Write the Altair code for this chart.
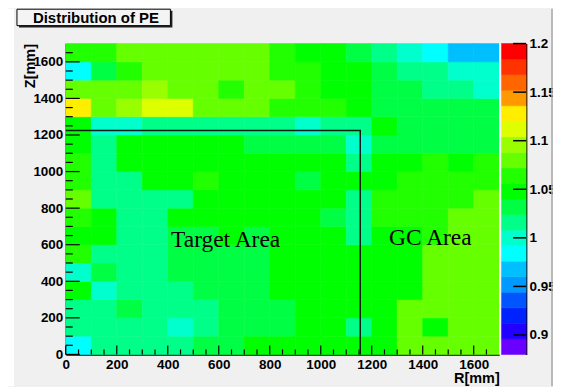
import altair as alt
import pandas as pd

# ---------------- data ----------------
r_edges = [0, 100, 200, 300, 400, 500, 600, 700, 800, 900, 1000, 1100, 1200, 1300, 1400, 1500, 1600, 1700]
z_edges = [0, 100, 200, 300, 400, 500, 600, 700, 800, 900, 1000, 1100, 1200, 1300, 1400, 1500, 1600, 1700]

# PE ratio per R bin, one list per Z bin (bottom to top)
pe_z0000 = [0.984, 1.016, 1.016, 1.016, 1.016, 1.032, 1.032, 1.048, 1.048, 1.048, 1.048, 1.048, 1.048, 1.080, 1.080, 1.080, 1.080]
pe_z0100 = [1.016, 1.016, 1.016, 1.016, 1.000, 1.016, 1.032, 1.032, 1.032, 1.048, 1.048, 1.016, 1.048, 1.080, 1.048, 1.080, 1.080]
pe_z0200 = [1.016, 1.016, 1.032, 1.016, 1.016, 1.016, 1.032, 1.032, 1.032, 1.048, 1.048, 1.048, 1.048, 1.080, 1.080, 1.080, 1.080]
pe_z0300 = [1.048, 1.000, 1.016, 1.016, 1.016, 1.032, 1.032, 1.032, 1.048, 1.048, 1.048, 1.048, 1.048, 1.048, 1.080, 1.080, 1.080]
pe_z0400 = [1.000, 1.032, 1.016, 1.016, 1.032, 1.032, 1.032, 1.032, 1.048, 1.048, 1.048, 1.048, 1.048, 1.048, 1.080, 1.080, 1.080]
pe_z0500 = [1.064, 1.016, 1.016, 1.016, 1.032, 1.032, 1.032, 1.032, 1.048, 1.048, 1.048, 1.048, 1.048, 1.048, 1.080, 1.080, 1.080]
pe_z0600 = [1.048, 1.048, 1.016, 1.016, 1.032, 1.032, 1.048, 1.032, 1.048, 1.048, 1.048, 1.016, 1.048, 1.048, 1.064, 1.080, 1.080]
pe_z0700 = [1.064, 1.048, 1.016, 1.016, 1.048, 1.048, 1.048, 1.048, 1.048, 1.048, 1.032, 1.016, 1.064, 1.064, 1.064, 1.080, 1.080]
pe_z0800 = [1.080, 1.016, 1.016, 1.016, 1.016, 1.048, 1.048, 1.048, 1.048, 1.048, 1.048, 1.016, 1.064, 1.064, 1.064, 1.064, 1.080]
pe_z0900 = [1.064, 1.016, 1.016, 1.048, 1.048, 1.064, 1.048, 1.048, 1.048, 1.032, 1.048, 1.048, 1.048, 1.064, 1.064, 1.064, 1.064]
pe_z1000 = [1.064, 1.016, 1.048, 1.048, 1.048, 1.048, 1.048, 1.048, 1.048, 1.048, 1.048, 1.016, 1.048, 1.048, 1.064, 1.048, 1.064]
pe_z1100 = [1.048, 1.016, 1.048, 1.048, 1.048, 1.048, 1.048, 1.032, 1.032, 1.032, 1.032, 1.000, 1.032, 1.032, 1.032, 1.032, 1.032]
pe_z1200 = [1.048, 1.000, 1.000, 1.016, 1.016, 1.016, 1.016, 1.016, 1.016, 1.000, 1.016, 1.016, 1.048, 1.032, 1.032, 1.032, 1.032]
pe_z1300 = [1.128, 1.080, 1.096, 1.112, 1.112, 1.080, 1.080, 1.080, 1.064, 1.064, 1.064, 1.048, 1.032, 1.032, 1.032, 1.032, 1.032]
pe_z1400 = [1.080, 1.080, 1.080, 1.096, 1.080, 1.080, 1.064, 1.080, 1.080, 1.064, 1.048, 1.048, 1.032, 1.032, 1.016, 1.016, 1.000]
pe_z1500 = [0.984, 1.032, 1.064, 1.080, 1.080, 1.080, 1.080, 1.080, 1.064, 1.064, 1.048, 1.048, 1.032, 1.016, 1.016, 1.000, 1.000]
pe_z1600 = [1.064, 1.064, 1.080, 1.080, 1.080, 1.080, 1.080, 1.080, 1.064, 1.048, 1.048, 1.032, 1.016, 1.000, 0.984, 0.968, 0.968]

pe_rows = [pe_z0000, pe_z0100, pe_z0200, pe_z0300, pe_z0400, pe_z0500, pe_z0600, pe_z0700, pe_z0800,
           pe_z0900, pe_z1000, pe_z1100, pe_z1200, pe_z1300, pe_z1400, pe_z1500, pe_z1600]

# colour palette (20 contour levels from 0.88 to 1.2)
z_min, z_max = 0.88, 1.2
palette = ["#6A00FF", "#2200FF", "#0022FF", "#0055FF", "#0099FF", "#00BFFF", "#00FFFF", "#00FFCC",
           "#00FF88", "#00FF44", "#00FF00", "#22FF00", "#66FF00", "#99FF00", "#DDFF00", "#FFEE00",
           "#FF9900", "#FF6600", "#FF3300", "#FF0000"]
cbar_ticks = [0.9, 0.95, 1.0, 1.05, 1.1, 1.15, 1.2]

# boundary of the target area
target_r = [0, 1155, 1155]
target_z = [1225, 1225, 0]

area_labels = ["Target Area", "GC Area"]
area_r = [627, 1430]
area_z = [587, 599]

title_text = "Distribution of PE"

axis_major = [0, 200, 400, 600, 800, 1000, 1200, 1400, 1600]
axis_minor = [v for v in range(50, 1700, 50) if v % 200 != 0]

# ---------------- tables ----------------
cells = []
for j, row in enumerate(pe_rows):
    for i, v in enumerate(row):
        cells.append({"r0": r_edges[i], "r1": r_edges[i + 1], "z0": z_edges[j], "z1": z_edges[j + 1], "pe": v})
heat_df = pd.DataFrame(cells)

n = len(palette)
step = (z_max - z_min) / n
cbar_df = pd.DataFrame({
    "lo": [z_min + k * step for k in range(n)],
    "hi": [z_min + (k + 1) * step for k in range(n)],
    "mid": [z_min + (k + 0.5) * step for k in range(n)],
})
line_df = pd.DataFrame({"R": target_r, "Z": target_z, "i": list(range(len(target_r)))})
text_df = pd.DataFrame({"R": area_r, "Z": area_z, "label": area_labels})
major_df = pd.DataFrame({"t": axis_major})
minor_df = pd.DataFrame({"t": axis_minor})
cbt_df = pd.DataFrame({"t": cbar_ticks})
one = pd.DataFrame({"a": [0]})

W, H = 435, 312
SANS = "Liberation Sans"
SERIF = "Liberation Serif"

color_scale = alt.Scale(type="quantize", domain=[z_min, z_max], range=palette)
xs = alt.Scale(domain=[0, 1700], nice=False, zero=False)
ys = alt.Scale(domain=[0, 1700], nice=False, zero=False)

x_axis = alt.Axis(values=axis_major, format="d", ticks=False, tickSize=0, grid=False,
                  domainColor="black", domainWidth=1.5, labelFont=SANS, labelFontSize=13.5,
                  labelFontWeight="bold", labelColor="black", labelPadding=3, labelFlush=False,
                  labelOverlap=False, title="R[mm]", titleFont=SANS, titleFontSize=14.5,
                  titleFontWeight="bold", titleColor="black", titleAlign="right",
                  titleBaseline="alphabetic", titleX=W, titleY=28)
y_axis = alt.Axis(values=axis_major, format="d", ticks=False, tickSize=0, grid=False, orient="left",
                  domainColor="black", domainWidth=1.5, labelFont=SANS, labelFontSize=13.5,
                  labelFontWeight="bold", labelColor="black", labelPadding=3, labelFlush=False,
                  labelOverlap=False, title="Z[mm]", titleFont=SANS, titleFontSize=14.5,
                  titleFontWeight="bold", titleColor="black", titleAngle=270, titleAlign="right",
                  titleBaseline="alphabetic", titleX=-31, titleY=0)


def X(f):
    return alt.X(f, type="quantitative", scale=xs, axis=x_axis)


def Y(f):
    return alt.Y(f, type="quantitative", scale=ys, axis=y_axis)


heat = alt.Chart(heat_df).mark_rect(strokeWidth=0.6).encode(
    x=X("r0"), x2="r1", y=Y("z0"), y2="z1",
    color=alt.Color("pe:Q", scale=color_scale, legend=None),
    stroke=alt.Stroke("pe:Q", scale=color_scale, legend=None),
)

boundary = alt.Chart(line_df).mark_line(color="black", strokeWidth=1.5, opacity=0.9).encode(
    x=X("R"), y=Y("Z"), order="i:Q")

labels = alt.Chart(text_df).mark_text(font=SERIF, fontSize=23.5, color="black", align="center",
                                      baseline="alphabetic").encode(x=X("R"), y=Y("Z"), text="label:N")

xt_major = alt.Chart(major_df).mark_rule(color="black", strokeWidth=1.2).encode(
    x=X("t"), y=alt.value(H), y2=alt.value(H - 9))
xt_minor = alt.Chart(minor_df).mark_rule(color="black", strokeWidth=1.2).encode(
    x=X("t"), y=alt.value(H), y2=alt.value(H - 5))
yt_major = alt.Chart(major_df).mark_rule(color="black", strokeWidth=1.2).encode(
    y=Y("t"), x=alt.value(0), x2=alt.value(14))
yt_minor = alt.Chart(minor_df).mark_rule(color="black", strokeWidth=1.2).encode(
    y=Y("t"), x=alt.value(0), x2=alt.value(7))

heat_group = alt.layer(heat, boundary, labels, xt_major, xt_minor, yt_major, yt_minor)

# ---------------- colour bar ----------------
cbs = alt.Scale(domain=[z_min, z_max], nice=False, zero=False)
cb_axis = alt.Axis(values=cbar_ticks, format="~g", orient="right", offset=27, ticks=False, tickSize=0,
                   grid=False, domainColor="black", domainWidth=1.5, labelFont=SANS, labelFontSize=13.5,
                   labelFontWeight="bold", labelColor="black", labelPadding=3, labelFlush=False,
                   labelOverlap=False, title=None)

cbar = alt.Chart(cbar_df).mark_rect(strokeWidth=0.6).encode(
    x=alt.value(437), x2=alt.value(462),
    y=alt.Y("lo:Q", scale=cbs, axis=cb_axis), y2="hi:Q",
    color=alt.Color("mid:Q", scale=color_scale, legend=None),
    stroke=alt.Stroke("mid:Q", scale=color_scale, legend=None),
)
cbar_t = alt.Chart(cbt_df).mark_rule(color="black", strokeWidth=1.5).encode(
    y=alt.Y("t:Q", scale=cbs, axis=cb_axis), x=alt.value(449), x2=alt.value(462))
cbar_group = alt.layer(cbar, cbar_t)

# ---------------- decorations ----------------
gap = alt.Chart(one).mark_rect(color="white").encode(
    x=alt.value(W), x2=alt.value(437), y=alt.value(0), y2=alt.value(H))
left_strip = alt.Chart(one).mark_rect(color="white").encode(
    x=alt.value(-58), x2=alt.value(-52), y=alt.value(-35), y2=alt.value(H + 32))
border = alt.Chart(one).mark_rule(color="#A8A8A8", strokeWidth=1.5).encode(
    x=alt.value(488), y=alt.value(-35), y2=alt.value(H + 32))
shadow = alt.Chart(one).mark_rect(color="#202020").encode(
    x=alt.value(-47), x2=alt.value(107), y=alt.value(-33), y2=alt.value(-16))
box = alt.Chart(one).mark_rect(color="#F4F4F4", stroke="black", strokeWidth=1).encode(
    x=alt.value(-49), x2=alt.value(105), y=alt.value(-34.5), y2=alt.value(-18))
title = alt.Chart(one).mark_text(font=SANS, fontSize=15, fontWeight="bold", color="black",
                                 align="left", baseline="middle").encode(
    x=alt.value(-33), y=alt.value(-26), text=alt.value(title_text))

chart = alt.layer(heat_group, cbar_group, gap, left_strip, border, shadow, box, title).resolve_scale(
    y="independent"
).properties(
    width=W, height=H,
    autosize=alt.AutoSizeParams(type="none"),
    padding={"left": 58, "top": 35, "right": 54, "bottom": 32},
    background="#F0F0F0",
).configure_view(stroke=None)

chart.save("out.html", embed_options={"renderer": "svg", "actions": False})
